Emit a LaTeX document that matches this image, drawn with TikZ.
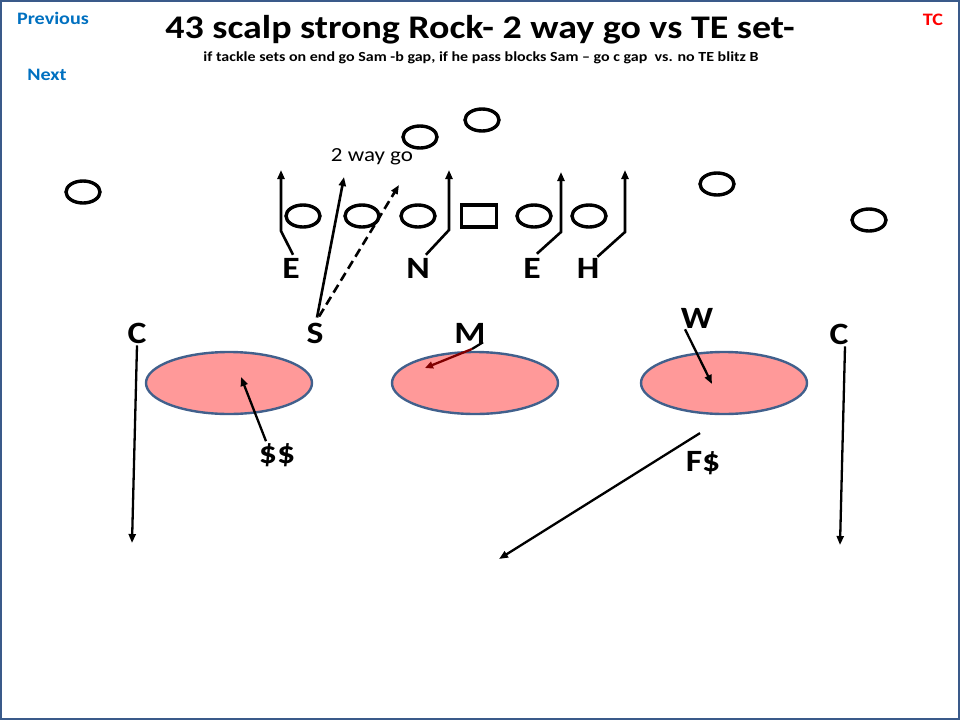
\documentclass[tikz,border=0pt]{standalone}
\usepackage{fontspec}
\setmainfont{Carlito}[FakeStretch=1.15]
\usetikzlibrary{positioning,arrows.meta,shapes.geometric}
\definecolor{zonefill}{RGB}{255,153,153}
\definecolor{zoneline}{RGB}{65,96,140}
\definecolor{framecol}{RGB}{58,90,138}
\definecolor{linkblue}{RGB}{0,112,192}
\definecolor{mikered}{RGB}{128,0,0}
\tikzset{
   player/.style={draw,ellipse,line width=3.4pt,minimum width=34pt,minimum height=22pt,inner sep=0pt},
   center/.style={draw,rectangle,line width=3.4pt,minimum width=35pt,minimum height=22pt,inner sep=0pt},
   zone/.style={draw=zoneline,fill=zonefill,ellipse,line width=2.4pt,minimum width=166pt,minimum height=62pt},
   defender/.style={font=\fontsize{31}{31}\bfseries\selectfont,inner sep=0pt},
   route/.style={line width=2.6pt,-{Triangle[length=9pt,width=7pt]}},
   drop/.style={line width=2.3pt,-{Triangle[length=9pt,width=7pt]}},
}

\begin{document}
\begin{tikzpicture}[x=1pt,y=-1pt]
      \useasboundingbox (0,0) rectangle (960,720);
      \draw[framecol,line width=2.5pt] (1,1) rectangle (959,719);

      \node[text=linkblue,font=\fontsize{17.5}{17.5}\bfseries\selectfont] (prev) at (53,18) {Previous};
      \node[text=linkblue,font=\fontsize{17.5}{17.5}\bfseries\selectfont] (next) at (47,75) {Next};
      \node[text=red,font=\fontsize{17.5}{17.5}\bfseries\selectfont] (tc) at (933,20) {TC};
      \node[font=\fontsize{33}{33}\bfseries\selectfont] (title) at (480,30) {43 scalp strong Rock- 2 way go vs TE set-};
      \node[font=\fontsize{13.9}{13.9}\bfseries\selectfont] (sub) at (481,58) {if tackle sets on end go Sam -b gap, if he pass blocks Sam -- go c gap\ \ vs. no TE blitz B};

      % offense
      \node[player] (wr1) at (83,192) {};
      \node[player] (lt) at (303,216) {};
      \node[player] (lg) at (362,216) {};
      \node[player] (c0) at (418,216) {};
      \node[center] (ball) at (479,216) {};
      \node[player] (rg) at (534,216) {};
      \node[player] (rt) at (589,216) {};
      \node[player] (qb) at (420,137) {};
      \node[player] (rb) at (482,120) {};
      \node[player] (wr2) at (717,184) {};
      \node[player] (wr3) at (869,220) {};
      \node[font=\fontsize{20}{20}\selectfont] (go) at (372,157) {2 way go};

      % zones
      \node[zone] (z1) at (229,383) {};
      \node[zone] (z2) at (475,383) {};
      \node[zone] (z3) at (724,383) {};

      % defense
      \node[defender] (e1) at (291,268) {E};
      \node[defender] (n) at (418,268) {N};
      \node[defender] (e2) at (532,268) {E};
      \node[defender] (h) at (588,268) {H};
      \node[defender] (c1) at (137,333) {C};
      \node[defender] (s) at (315,333) {S};
      \node[defender] (m) at (470,333) {M};
      \node[defender] (w) at (697,318) {W};
      \node[defender] (c2) at (839,334) {C};
      \node[defender] (ss) at (277,455) {\$\$};
      \node[defender] (fs) at (703,463) {F\$};

      \draw[route] (e1.north) ++(2,-3) -- (281,231) -- (281,170);
      \draw[route] (n.north east) ++(-4,-3) -- (449,230) -- (449,170);
      \draw[route] (e2.north east) ++(-4,-4) -- (561,232) -- (561,172);
      \draw[route] (h.north east) ++(-2,-1) -- (625,232) -- (625,170);
      \draw[route] (s.north) ++(2,-5) -- (344,177);
      \draw[route,dashed,dash pattern=on 9pt off 5pt] (s.north) ++(4,-6) -- (399,185);
      \draw[drop] (c1.south) ++(0,2) -- (132,543);
      \draw[drop] (c2.south) ++(6,2) -- (840,545);
      \draw[drop] (ss.north) ++(-11,-2) -- (241,377);
      \draw[drop] (w.south) ++(-12,1) -- (712,384);
      \draw[drop] (fs.north) ++(-3,-18) -- (499,559);
      \draw[line width=2.3pt] (m.south) ++(13,-1) -- (472,349);
      \draw[line width=2.3pt,mikered,-{Triangle[length=8pt,width=7pt]}] (472,349) -- (425,368);
\end{tikzpicture}
\end{document}
